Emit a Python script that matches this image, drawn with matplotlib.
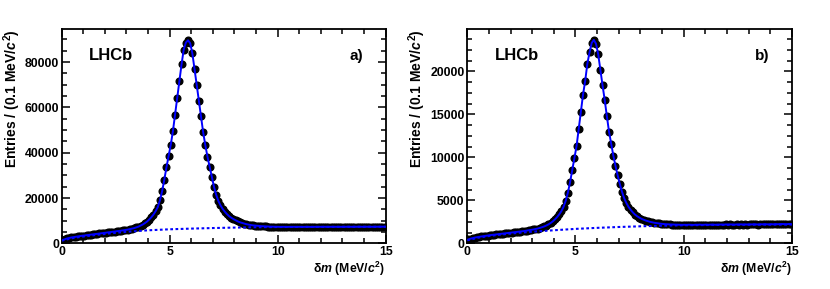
import numpy as np
import matplotlib
matplotlib.use("Agg")
import matplotlib.pyplot as plt
from matplotlib.ticker import MultipleLocator

plt.rcParams['font.family'] = ['Liberation Sans', 'DejaVu Sans']
plt.rcParams['font.weight'] = 'bold'
plt.rcParams['axes.labelweight'] = 'bold'
plt.rcParams['mathtext.fontset'] = 'custom'
plt.rcParams['mathtext.rm'] = 'Liberation Sans:bold'
plt.rcParams['mathtext.it'] = 'Liberation Sans:bold:italic'
plt.rcParams['mathtext.bf'] = 'Liberation Sans:bold'

# bin centres, 0.1 MeV/c2 bins from 0 to 15
dm = np.arange(150) * 0.1 + 0.05

# panel a) entries per bin
entries_a = [
    1500, 1850, 2150, 2400, 2600, 2750, 2900, 3050, 3200, 3350,
    3450, 3600, 3700, 3850, 3950, 4100, 4200, 4350, 4450, 4600,
    4700, 4850, 4950, 5100, 5200, 5350, 5450, 5600, 5750, 5900,
    6050, 6250, 6450, 6700, 7000, 7350, 7800, 8300, 8900, 9600,
    10500, 11500, 12700, 14200, 16000, 19000, 23000, 28000, 33500, 38500,
    43500, 49500, 56800, 64300, 71500, 79000, 85500, 88600, 89600, 88300,
    83800, 77000, 70000, 63000, 56000, 49000, 43300, 38200, 33800, 29400,
    25000, 21500, 18800, 16800, 15200, 14000, 12900, 12000, 11300, 10700,
    10200, 9700, 9300, 9000, 8700, 8450, 8250, 8100, 7950, 7850,
    7750, 7650, 7580, 7520, 7470, 7420, 7380, 7350, 7320, 7300,
    7290, 7260, 7300, 7270, 7240, 7280, 7260, 7300, 7250, 7270,
    7290, 7250, 7270, 7300, 7260, 7240, 7280, 7290, 7260, 7300,
    7270, 7310, 7280, 7260, 7300, 7290, 7320, 7270, 7300, 7280,
    7310, 7290, 7330, 7300, 7280, 7320, 7300, 7340, 7310, 7290,
    7330, 7310, 7340, 7300, 7320, 7350, 7330, 7310, 7350, 7340,
]

# panel b) entries per bin
entries_b = [
    450, 540, 610, 670, 720, 760, 800, 840, 880, 910,
    950, 980, 1010, 1040, 1070, 1100, 1130, 1160, 1190, 1220,
    1250, 1280, 1310, 1340, 1370, 1400, 1440, 1480, 1520, 1560,
    1610, 1660, 1720, 1790, 1870, 1960, 2070, 2200, 2360, 2550,
    2780, 3050, 3370, 3750, 4250, 4950, 5900, 7100, 8500, 9900,
    11300, 13300, 15300, 17300, 18900, 20900, 22200, 23300, 23650, 23200,
    22000, 20200, 18400, 16700, 14800, 13000, 11600, 10200, 9000, 7900,
    6900, 6000, 5250, 4700, 4250, 3900, 3600, 3350, 3150, 3000,
    2850, 2750, 2650, 2570, 2500, 2440, 2390, 2350, 2310, 2280,
    2250, 2230, 2210, 2200, 2190, 2180, 2170, 2160, 2150, 2150,
    2160, 2150, 2170, 2160, 2140, 2170, 2160, 2180, 2150, 2170,
    2180, 2160, 2170, 2190, 2160, 2170, 2180, 2190, 2170, 2200,
    2180, 2200, 2190, 2170, 2200, 2190, 2210, 2180, 2200, 2190,
    2210, 2200, 2220, 2200, 2190, 2220, 2210, 2230, 2210, 2200,
    2230, 2210, 2240, 2220, 2230, 2250, 2230, 2220, 2250, 2240,
]

# background component of the fit
bkg_x = [0, 0.5, 1, 1.5, 2, 2.5, 3, 4, 5, 6, 7, 8, 9, 10, 12, 15]
bkg_a = [1200, 2300, 3000, 3600, 4150, 4650, 5100, 5750, 6200, 6500, 6750, 6950, 7100, 7200, 7270, 7320]
bkg_b = [350, 650, 850, 1000, 1130, 1250, 1350, 1520, 1680, 1800, 1900, 1980, 2050, 2100, 2150, 2180]

panels = [
    ("a)", entries_a, bkg_a, 94500, 20000, 5000, [0.0743, 0.158, 0.3904, 0.741]),
    ("b)", entries_b, bkg_b, 24900, 5000, 1250, [0.563, 0.158, 0.391, 0.741]),
]

fig = plt.figure(figsize=(8.3, 2.89), dpi=100)

for tag, y, bkg, ymax, ymaj, ymin, rect in panels:
    ax = fig.add_axes(rect)
    ax.plot(dm, y, 'o', color='black', ms=4.8, zorder=2)
    ax.plot(bkg_x, bkg, color='blue', lw=1.5, ls=(0, (1.3, 1.2)), zorder=3)
    ax.plot(dm, y, color='blue', lw=1.4, zorder=4)

    ax.set_xlim(0, 15)
    ax.set_ylim(0, ymax)
    ax.xaxis.set_major_locator(MultipleLocator(5))
    ax.xaxis.set_minor_locator(MultipleLocator(1))
    ax.yaxis.set_major_locator(MultipleLocator(ymaj))
    ax.yaxis.set_minor_locator(MultipleLocator(ymin))
    ax.tick_params(which='both', direction='in', top=True, right=True,
                   labelsize=8.8, width=1.1, pad=2)
    ax.tick_params(which='major', length=6)
    ax.tick_params(which='minor', length=3.5)
    for lab in ax.get_xticklabels() + ax.get_yticklabels():
        lab.set_fontweight('bold')
    for s in ax.spines.values():
        s.set_linewidth(1.3)

    ax.set_ylabel("Entries / (0.1 MeV/$c^{2}$)", fontsize=10, loc='top',
                  fontweight='bold')
    ax.yaxis.set_label_coords(-0.12, 1.0)
    ax.set_xlabel(r"δ$m$ (MeV/$c^{2}$)", fontsize=8.8, loc='right',
                  fontweight='bold')
    ax.xaxis.set_label_coords(1.0, -0.075)

    ax.text(0.084, 0.875, "LHCb", transform=ax.transAxes, fontsize=12,
            fontweight='bold', va='center', ha='left')
    ax.text(0.93, 0.875, tag, transform=ax.transAxes, fontsize=11,
            fontweight='bold', va='center', ha='right')

fig.savefig("out.png", dpi=100)
